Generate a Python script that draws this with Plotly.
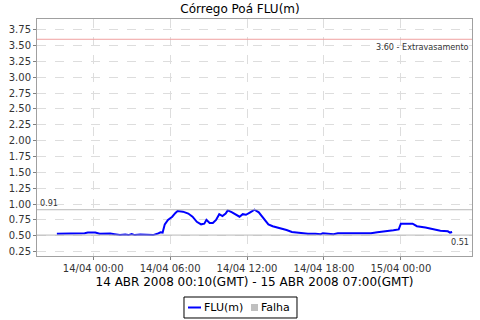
import plotly.graph_objects as go

# Local time (GMT-3) timestamps of readings
times = [
    "2008-04-13 21:10", "2008-04-13 22:10", "2008-04-13 23:20", "2008-04-13 23:35",
    "2008-04-14 00:10", "2008-04-14 00:30", "2008-04-14 01:20", "2008-04-14 01:40",
    "2008-04-14 02:05", "2008-04-14 02:30", "2008-04-14 02:45", "2008-04-14 03:00",
    "2008-04-14 03:15", "2008-04-14 03:40", "2008-04-14 04:25", "2008-04-14 04:40",
    "2008-04-14 05:00", "2008-04-14 05:15", "2008-04-14 05:25", "2008-04-14 05:35",
    "2008-04-14 05:50", "2008-04-14 06:10", "2008-04-14 06:25", "2008-04-14 06:35",
    "2008-04-14 07:00", "2008-04-14 07:25", "2008-04-14 07:45", "2008-04-14 08:05",
    "2008-04-14 08:25", "2008-04-14 08:40", "2008-04-14 08:50", "2008-04-14 09:05",
    "2008-04-14 09:20", "2008-04-14 09:35", "2008-04-14 09:50", "2008-04-14 10:05",
    "2008-04-14 10:20", "2008-04-14 10:30", "2008-04-14 10:50", "2008-04-14 11:10",
    "2008-04-14 11:25", "2008-04-14 11:40", "2008-04-14 11:55", "2008-04-14 12:15",
    "2008-04-14 12:35", "2008-04-14 12:55", "2008-04-14 13:15", "2008-04-14 13:40",
    "2008-04-14 14:00", "2008-04-14 14:35", "2008-04-14 15:05", "2008-04-14 15:30",
    "2008-04-14 16:10", "2008-04-14 16:45", "2008-04-14 17:20", "2008-04-14 17:45",
    "2008-04-14 17:55", "2008-04-14 18:20", "2008-04-14 18:45", "2008-04-14 19:05",
    "2008-04-14 20:05", "2008-04-14 21:40", "2008-04-14 22:10", "2008-04-14 23:00",
    "2008-04-14 23:25", "2008-04-14 23:50", "2008-04-15 00:00", "2008-04-15 00:55",
    "2008-04-15 01:15", "2008-04-15 01:55", "2008-04-15 02:35", "2008-04-15 03:05",
    "2008-04-15 03:40", "2008-04-15 03:50", "2008-04-15 04:00",
]
flu = [
    0.53, 0.53, 0.54, 0.55,
    0.55, 0.53, 0.535, 0.525,
    0.51, 0.52, 0.51, 0.525,
    0.51, 0.52, 0.52, 0.51,
    0.53, 0.555, 0.55, 0.68,
    0.75, 0.80, 0.86, 0.89,
    0.88, 0.85, 0.80, 0.72,
    0.68, 0.69, 0.75, 0.70,
    0.70, 0.75, 0.84, 0.81,
    0.85, 0.90, 0.87, 0.83,
    0.80, 0.84, 0.83, 0.87,
    0.91, 0.87, 0.78, 0.68,
    0.65, 0.62, 0.59, 0.56,
    0.545, 0.53, 0.53, 0.525,
    0.54, 0.53, 0.525, 0.54,
    0.54, 0.54, 0.555, 0.57,
    0.585, 0.60, 0.69, 0.69,
    0.65, 0.63, 0.60, 0.58,
    0.57, 0.55, 0.56,
]

series_name = "FLU(m)"
fail_name = "Falha"
flood_level = 3.60
flood_label = "3.60 - Extravasamento"
max_level = 0.91
min_level = 0.51
y_ticks = [0.25, 0.50, 0.75, 1.00, 1.25, 1.50, 1.75, 2.00, 2.25, 2.50, 2.75, 3.00, 3.25, 3.50, 3.75]
x_ticks = ["2008-04-14 00:00", "2008-04-14 06:00", "2008-04-14 12:00", "2008-04-14 18:00", "2008-04-15 00:00"]
x_range = ["2008-04-13 19:37", "2008-04-15 05:33"]
y_range = [0.18, 3.92]

font = "DejaVu Sans"
small = "DejaVu Sans Condensed"
line_blue = "#0000ff"
fail_gray = "#c0c0c0"

fig = go.Figure()
fig.add_trace(go.Scatter(x=times, y=flu, mode="lines", name=series_name,
                         line=dict(color=line_blue, width=2), showlegend=False))

fig.add_hline(y=flood_level, line=dict(color="#f0a0a0", width=1))
fig.add_hline(y=max_level, line=dict(color="#b8b8b8", width=1))
fig.add_hline(y=min_level, line=dict(color="#b8b8b8", width=1))

fig.add_annotation(x=1, xref="paper", xanchor="right", y=flood_level, yanchor="top",
                   text=flood_label, showarrow=False, xshift=-1, yshift=-1,
                   font=dict(family=small, size=9, color="#333333"))
fig.add_annotation(x=0, xref="paper", xanchor="left", y=max_level, yanchor="bottom",
                   text=f"{max_level:.2f}", showarrow=False, xshift=1, yshift=0,
                   font=dict(family=small, size=9, color="#333333"))
fig.add_annotation(x=1, xref="paper", xanchor="right", y=min_level, yanchor="top",
                   text=f"{min_level:.2f}", showarrow=False, xshift=-1, yshift=0,
                   font=dict(family=small, size=9, color="#333333"))

# Legend box drawn in paper coordinates (JFreeChart-style compact legend)
fig.add_shape(type="rect", xref="paper", yref="paper", x0=0.3379, x1=0.5977, y0=-0.2616, y1=-0.1730,
              line=dict(color="#000000", width=1), fillcolor="white")
fig.add_shape(type="line", xref="paper", yref="paper", x0=0.3471, x1=0.3770, y0=-0.2173, y1=-0.2173,
              line=dict(color=line_blue, width=2))
fig.add_shape(type="rect", xref="paper", yref="paper", x0=0.4920, x1=0.5080, y0=-0.2321, y1=-0.2025,
              line=dict(color=fail_gray, width=0), fillcolor=fail_gray)
fig.add_annotation(x=0.3816, xref="paper", xanchor="left", y=-0.2173, yref="paper", yanchor="middle",
                   text=series_name, showarrow=False, borderpad=0,
                   font=dict(family=font, size=11, color="#000000"))
fig.add_annotation(x=0.5126, xref="paper", xanchor="left", y=-0.2173, yref="paper", yanchor="middle",
                   text=fail_name, showarrow=False, borderpad=0,
                   font=dict(family=font, size=11, color="#000000"))

fig.update_layout(
    width=480, height=320,
    margin=dict(l=37, r=8, t=19, b=64, autoexpand=False),
    paper_bgcolor="white", plot_bgcolor="white",
    font=dict(family=font, size=10, color="#333333"),
    title=dict(text="Córrego Poá FLU(m)", x=0.5, xanchor="center", y=0.972, yanchor="middle",
               font=dict(family=font, size=12, color="#000000")),
    showlegend=False,
    xaxis=dict(range=x_range, tickvals=x_ticks, tickformat="%d/%m %H:%M",
               showgrid=True, gridcolor="#dddddd", griddash="dash", gridwidth=1,
               showline=True, linecolor="#a0a0a0", mirror=True,
               ticks="outside", ticklen=3, tickcolor="#808080",
               tickfont=dict(size=10, color="#333333"), automargin=False,
               title=dict(text="14 ABR 2008 00:10(GMT) - 15 ABR 2008 07:00(GMT)",
                          font=dict(size=12, color="#000000"), standoff=4),
               zeroline=False),
    yaxis=dict(range=y_range, tickvals=y_ticks, tickformat=".2f",
               showgrid=True, gridcolor="#dddddd", griddash="dash", gridwidth=1,
               showline=True, linecolor="#a0a0a0", mirror=True,
               ticks="outside", ticklen=3, tickcolor="#808080",
               tickfont=dict(size=10, color="#333333"), automargin=False,
               zeroline=False),
)

fig.write_html("out.html", config={"displayModeBar": False},
               post_script="document.body.style.margin='0';document.body.style.padding='0';")
